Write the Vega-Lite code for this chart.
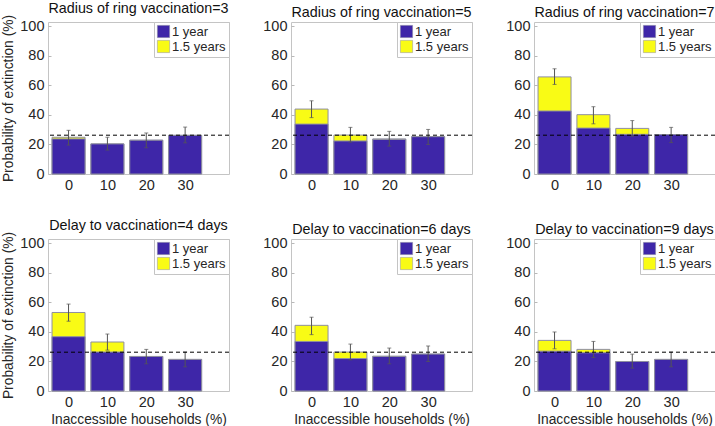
{
  "$schema": "https://vega.github.io/schema/vega-lite/v6.json",
  "padding": {"left": 1, "top": 1, "right": 0, "bottom": 0},
  "datasets": {
    "d": [
      {"p": "Radius of ring vaccination=3", "x": 0, "s": "1.5 years", "v": 24.9},
      {"p": "Radius of ring vaccination=3", "x": 10, "s": "1.5 years", "v": 20.4},
      {"p": "Radius of ring vaccination=3", "x": 20, "s": "1.5 years", "v": 22.9},
      {"p": "Radius of ring vaccination=3", "x": 30, "s": "1.5 years", "v": 26.2},
      {"p": "Radius of ring vaccination=3", "x": 0, "s": "1 year", "v": 23.8},
      {"p": "Radius of ring vaccination=3", "x": 10, "s": "1 year", "v": 20.4},
      {"p": "Radius of ring vaccination=3", "x": 20, "s": "1 year", "v": 22.9},
      {"p": "Radius of ring vaccination=3", "x": 30, "s": "1 year", "v": 26.2},
      {"p": "Radius of ring vaccination=3", "x": 0, "lo": 19.6, "hi": 29.6},
      {"p": "Radius of ring vaccination=3", "x": 10, "lo": 16.2, "hi": 24.9},
      {"p": "Radius of ring vaccination=3", "x": 20, "lo": 17.8, "hi": 27.8},
      {"p": "Radius of ring vaccination=3", "x": 30, "lo": 21.1, "hi": 31.8},

      {"p": "Radius of ring vaccination=5", "x": 0, "s": "1.5 years", "v": 44.0},
      {"p": "Radius of ring vaccination=5", "x": 10, "s": "1.5 years", "v": 26.4},
      {"p": "Radius of ring vaccination=5", "x": 20, "s": "1.5 years", "v": 23.8},
      {"p": "Radius of ring vaccination=5", "x": 30, "s": "1.5 years", "v": 25.3},
      {"p": "Radius of ring vaccination=5", "x": 0, "s": "1 year", "v": 33.8},
      {"p": "Radius of ring vaccination=5", "x": 10, "s": "1 year", "v": 22.4},
      {"p": "Radius of ring vaccination=5", "x": 20, "s": "1 year", "v": 23.4},
      {"p": "Radius of ring vaccination=5", "x": 30, "s": "1 year", "v": 25.3},
      {"p": "Radius of ring vaccination=5", "x": 0, "lo": 38.2, "hi": 49.6},
      {"p": "Radius of ring vaccination=5", "x": 10, "lo": 21.6, "hi": 31.6},
      {"p": "Radius of ring vaccination=5", "x": 20, "lo": 18.9, "hi": 28.9},
      {"p": "Radius of ring vaccination=5", "x": 30, "lo": 20.0, "hi": 30.2},

      {"p": "Radius of ring vaccination=7", "x": 0, "s": "1.5 years", "v": 65.8},
      {"p": "Radius of ring vaccination=7", "x": 10, "s": "1.5 years", "v": 40.2},
      {"p": "Radius of ring vaccination=7", "x": 20, "s": "1.5 years", "v": 30.9},
      {"p": "Radius of ring vaccination=7", "x": 30, "s": "1.5 years", "v": 26.7},
      {"p": "Radius of ring vaccination=7", "x": 0, "s": "1 year", "v": 42.7},
      {"p": "Radius of ring vaccination=7", "x": 10, "s": "1 year", "v": 31.1},
      {"p": "Radius of ring vaccination=7", "x": 20, "s": "1 year", "v": 26.9},
      {"p": "Radius of ring vaccination=7", "x": 30, "s": "1 year", "v": 26.7},
      {"p": "Radius of ring vaccination=7", "x": 0, "lo": 60.7, "hi": 71.3},
      {"p": "Radius of ring vaccination=7", "x": 10, "lo": 34.0, "hi": 45.6},
      {"p": "Radius of ring vaccination=7", "x": 20, "lo": 25.6, "hi": 36.2},
      {"p": "Radius of ring vaccination=7", "x": 30, "lo": 21.3, "hi": 31.6},

      {"p": "Delay to vaccination=4 days", "x": 0, "s": "1.5 years", "v": 53.2},
      {"p": "Delay to vaccination=4 days", "x": 10, "s": "1.5 years", "v": 33.2},
      {"p": "Delay to vaccination=4 days", "x": 20, "s": "1.5 years", "v": 23.4},
      {"p": "Delay to vaccination=4 days", "x": 30, "s": "1.5 years", "v": 21.4},
      {"p": "Delay to vaccination=4 days", "x": 0, "s": "1 year", "v": 36.8},
      {"p": "Delay to vaccination=4 days", "x": 10, "s": "1 year", "v": 26.4},
      {"p": "Delay to vaccination=4 days", "x": 20, "s": "1 year", "v": 23.4},
      {"p": "Delay to vaccination=4 days", "x": 30, "s": "1 year", "v": 21.4},
      {"p": "Delay to vaccination=4 days", "x": 0, "lo": 47.3, "hi": 58.9},
      {"p": "Delay to vaccination=4 days", "x": 10, "lo": 27.7, "hi": 38.6},
      {"p": "Delay to vaccination=4 days", "x": 20, "lo": 18.4, "hi": 28.2},
      {"p": "Delay to vaccination=4 days", "x": 30, "lo": 16.4, "hi": 26.4},

      {"p": "Delay to vaccination=6 days", "x": 0, "s": "1.5 years", "v": 44.5},
      {"p": "Delay to vaccination=6 days", "x": 10, "s": "1.5 years", "v": 26.4},
      {"p": "Delay to vaccination=6 days", "x": 20, "s": "1.5 years", "v": 23.6},
      {"p": "Delay to vaccination=6 days", "x": 30, "s": "1.5 years", "v": 25.0},
      {"p": "Delay to vaccination=6 days", "x": 0, "s": "1 year", "v": 33.6},
      {"p": "Delay to vaccination=6 days", "x": 10, "s": "1 year", "v": 22.0},
      {"p": "Delay to vaccination=6 days", "x": 20, "s": "1 year", "v": 23.4},
      {"p": "Delay to vaccination=6 days", "x": 30, "s": "1 year", "v": 25.0},
      {"p": "Delay to vaccination=6 days", "x": 0, "lo": 38.2, "hi": 50.0},
      {"p": "Delay to vaccination=6 days", "x": 10, "lo": 21.1, "hi": 31.8},
      {"p": "Delay to vaccination=6 days", "x": 20, "lo": 18.4, "hi": 29.1},
      {"p": "Delay to vaccination=6 days", "x": 30, "lo": 20.0, "hi": 30.5},

      {"p": "Delay to vaccination=9 days", "x": 0, "s": "1.5 years", "v": 34.3},
      {"p": "Delay to vaccination=9 days", "x": 10, "s": "1.5 years", "v": 28.2},
      {"p": "Delay to vaccination=9 days", "x": 20, "s": "1.5 years", "v": 20.0},
      {"p": "Delay to vaccination=9 days", "x": 30, "s": "1.5 years", "v": 21.4},
      {"p": "Delay to vaccination=9 days", "x": 0, "s": "1 year", "v": 27.0},
      {"p": "Delay to vaccination=9 days", "x": 10, "s": "1 year", "v": 25.9},
      {"p": "Delay to vaccination=9 days", "x": 20, "s": "1 year", "v": 20.0},
      {"p": "Delay to vaccination=9 days", "x": 30, "s": "1 year", "v": 21.4},
      {"p": "Delay to vaccination=9 days", "x": 0, "lo": 28.6, "hi": 40.0},
      {"p": "Delay to vaccination=9 days", "x": 10, "lo": 22.7, "hi": 33.6},
      {"p": "Delay to vaccination=9 days", "x": 20, "lo": 15.5, "hi": 25.0},
      {"p": "Delay to vaccination=9 days", "x": 30, "lo": 16.4, "hi": 26.4}
    ]
  },
  "columns": 3,
  "spacing": {"column": 62, "row": 65},
  "bounds": "flush",
  "resolve": {"scale": {"color": "independent"}, "legend": {"color": "independent"}},
  "concat": [
    {
      "width": 181, "height": 152,
      "title": "Radius of ring vaccination=3",
      "data": {"name": "d"},
      "transform": [{"filter": "datum.p == 'Radius of ring vaccination=3'"}],
      "layer": [
        {"mark": {"type": "bar", "size": 33, "stroke": "#8f8fa0", "strokeWidth": 1},
         "transform": [{"filter": "isValid(datum.s)"}],
         "encoding": {
           "x": {"field": "x", "type": "quantitative", "scale": {"domain": [-4, 40], "nice": false, "zero": false}, "axis": {"title": null, "values": [0, 10, 20, 30], "labelOverlap": false}},
           "y": {"field": "v", "type": "quantitative", "stack": null, "scale": {"domain": [0, 103], "nice": false}, "axis": {"title": "Probability of extinction (%)", "values": [0, 20, 40, 60, 80, 100], "labelOverlap": false}},
           "color": {"field": "s", "type": "nominal", "scale": {"domain": ["1 year", "1.5 years"], "range": ["#3E26A8", "#F9FB15"]}, "legend": {"title": null}}
         }},
        {"mark": {"type": "rule", "color": "#555555", "strokeWidth": 1},
         "transform": [{"filter": "isValid(datum.lo)"}],
         "encoding": {"x": {"field": "x", "type": "quantitative", "axis": {"title": null, "values": [0, 10, 20, 30], "labelOverlap": false}}, "y": {"field": "lo", "type": "quantitative", "axis": {"title": "Probability of extinction (%)", "values": [0, 20, 40, 60, 80, 100], "labelOverlap": false}}, "y2": {"field": "hi"}}},
        {"mark": {"type": "tick", "orient": "horizontal", "color": "#555555", "size": 4, "thickness": 1},
         "transform": [{"filter": "isValid(datum.lo)"}],
         "encoding": {"x": {"field": "x", "type": "quantitative", "axis": {"title": null, "values": [0, 10, 20, 30], "labelOverlap": false}}, "y": {"field": "lo", "type": "quantitative", "axis": {"title": "Probability of extinction (%)", "values": [0, 20, 40, 60, 80, 100], "labelOverlap": false}}}},
        {"mark": {"type": "tick", "orient": "horizontal", "color": "#555555", "size": 4, "thickness": 1},
         "transform": [{"filter": "isValid(datum.lo)"}],
         "encoding": {"x": {"field": "x", "type": "quantitative", "axis": {"title": null, "values": [0, 10, 20, 30], "labelOverlap": false}}, "y": {"field": "hi", "type": "quantitative", "axis": {"title": "Probability of extinction (%)", "values": [0, 20, 40, 60, 80, 100], "labelOverlap": false}}}},
        {"data": {"values": [{"ref": 26.3}]},
         "mark": {"type": "rule", "color": "black", "strokeWidth": 1, "strokeDash": [4, 3]},
         "encoding": {"y": {"field": "ref", "type": "quantitative", "axis": {"title": "Probability of extinction (%)", "values": [0, 20, 40, 60, 80, 100], "labelOverlap": false}}}}
      ]
    },
    {
      "width": 181, "height": 152,
      "title": "Radius of ring vaccination=5",
      "data": {"name": "d"},
      "transform": [{"filter": "datum.p == 'Radius of ring vaccination=5'"}],
      "layer": [
        {"mark": {"type": "bar", "size": 33, "stroke": "#8f8fa0", "strokeWidth": 1},
         "transform": [{"filter": "isValid(datum.s)"}],
         "encoding": {
           "x": {"field": "x", "type": "quantitative", "scale": {"domain": [-4, 40], "nice": false, "zero": false}, "axis": {"title": null, "values": [0, 10, 20, 30], "labelOverlap": false}},
           "y": {"field": "v", "type": "quantitative", "stack": null, "scale": {"domain": [0, 103], "nice": false}, "axis": {"title": null, "values": [0, 20, 40, 60, 80, 100], "labelOverlap": false}},
           "color": {"field": "s", "type": "nominal", "scale": {"domain": ["1 year", "1.5 years"], "range": ["#3E26A8", "#F9FB15"]}, "legend": {"title": null}}
         }},
        {"mark": {"type": "rule", "color": "#555555", "strokeWidth": 1},
         "transform": [{"filter": "isValid(datum.lo)"}],
         "encoding": {"x": {"field": "x", "type": "quantitative", "axis": {"title": null, "values": [0, 10, 20, 30], "labelOverlap": false}}, "y": {"field": "lo", "type": "quantitative", "axis": {"title": null, "values": [0, 20, 40, 60, 80, 100], "labelOverlap": false}}, "y2": {"field": "hi"}}},
        {"mark": {"type": "tick", "orient": "horizontal", "color": "#555555", "size": 4, "thickness": 1},
         "transform": [{"filter": "isValid(datum.lo)"}],
         "encoding": {"x": {"field": "x", "type": "quantitative", "axis": {"title": null, "values": [0, 10, 20, 30], "labelOverlap": false}}, "y": {"field": "lo", "type": "quantitative", "axis": {"title": null, "values": [0, 20, 40, 60, 80, 100], "labelOverlap": false}}}},
        {"mark": {"type": "tick", "orient": "horizontal", "color": "#555555", "size": 4, "thickness": 1},
         "transform": [{"filter": "isValid(datum.lo)"}],
         "encoding": {"x": {"field": "x", "type": "quantitative", "axis": {"title": null, "values": [0, 10, 20, 30], "labelOverlap": false}}, "y": {"field": "hi", "type": "quantitative", "axis": {"title": null, "values": [0, 20, 40, 60, 80, 100], "labelOverlap": false}}}},
        {"data": {"values": [{"ref": 26.3}]},
         "mark": {"type": "rule", "color": "black", "strokeWidth": 1, "strokeDash": [4, 3]},
         "encoding": {"y": {"field": "ref", "type": "quantitative", "axis": {"title": null, "values": [0, 20, 40, 60, 80, 100], "labelOverlap": false}}}}
      ]
    },
    {
      "width": 181, "height": 152,
      "title": "Radius of ring vaccination=7",
      "data": {"name": "d"},
      "transform": [{"filter": "datum.p == 'Radius of ring vaccination=7'"}],
      "layer": [
        {"mark": {"type": "bar", "size": 33, "stroke": "#8f8fa0", "strokeWidth": 1},
         "transform": [{"filter": "isValid(datum.s)"}],
         "encoding": {
           "x": {"field": "x", "type": "quantitative", "scale": {"domain": [-4, 40], "nice": false, "zero": false}, "axis": {"title": null, "values": [0, 10, 20, 30], "labelOverlap": false}},
           "y": {"field": "v", "type": "quantitative", "stack": null, "scale": {"domain": [0, 103], "nice": false}, "axis": {"title": null, "values": [0, 20, 40, 60, 80, 100], "labelOverlap": false}},
           "color": {"field": "s", "type": "nominal", "scale": {"domain": ["1 year", "1.5 years"], "range": ["#3E26A8", "#F9FB15"]}, "legend": {"title": null}}
         }},
        {"mark": {"type": "rule", "color": "#555555", "strokeWidth": 1},
         "transform": [{"filter": "isValid(datum.lo)"}],
         "encoding": {"x": {"field": "x", "type": "quantitative", "axis": {"title": null, "values": [0, 10, 20, 30], "labelOverlap": false}}, "y": {"field": "lo", "type": "quantitative", "axis": {"title": null, "values": [0, 20, 40, 60, 80, 100], "labelOverlap": false}}, "y2": {"field": "hi"}}},
        {"mark": {"type": "tick", "orient": "horizontal", "color": "#555555", "size": 4, "thickness": 1},
         "transform": [{"filter": "isValid(datum.lo)"}],
         "encoding": {"x": {"field": "x", "type": "quantitative", "axis": {"title": null, "values": [0, 10, 20, 30], "labelOverlap": false}}, "y": {"field": "lo", "type": "quantitative", "axis": {"title": null, "values": [0, 20, 40, 60, 80, 100], "labelOverlap": false}}}},
        {"mark": {"type": "tick", "orient": "horizontal", "color": "#555555", "size": 4, "thickness": 1},
         "transform": [{"filter": "isValid(datum.lo)"}],
         "encoding": {"x": {"field": "x", "type": "quantitative", "axis": {"title": null, "values": [0, 10, 20, 30], "labelOverlap": false}}, "y": {"field": "hi", "type": "quantitative", "axis": {"title": null, "values": [0, 20, 40, 60, 80, 100], "labelOverlap": false}}}},
        {"data": {"values": [{"ref": 26.3}]},
         "mark": {"type": "rule", "color": "black", "strokeWidth": 1, "strokeDash": [4, 3]},
         "encoding": {"y": {"field": "ref", "type": "quantitative", "axis": {"title": null, "values": [0, 20, 40, 60, 80, 100], "labelOverlap": false}}}}
      ]
    },
    {
      "width": 181, "height": 152,
      "title": "Delay to vaccination=4 days",
      "data": {"name": "d"},
      "transform": [{"filter": "datum.p == 'Delay to vaccination=4 days'"}],
      "layer": [
        {"mark": {"type": "bar", "size": 33, "stroke": "#8f8fa0", "strokeWidth": 1},
         "transform": [{"filter": "isValid(datum.s)"}],
         "encoding": {
           "x": {"field": "x", "type": "quantitative", "scale": {"domain": [-4, 40], "nice": false, "zero": false}, "axis": {"title": "Inaccessible households (%)", "values": [0, 10, 20, 30], "labelOverlap": false}},
           "y": {"field": "v", "type": "quantitative", "stack": null, "scale": {"domain": [0, 103], "nice": false}, "axis": {"title": "Probability of extinction (%)", "values": [0, 20, 40, 60, 80, 100], "labelOverlap": false}},
           "color": {"field": "s", "type": "nominal", "scale": {"domain": ["1 year", "1.5 years"], "range": ["#3E26A8", "#F9FB15"]}, "legend": {"title": null}}
         }},
        {"mark": {"type": "rule", "color": "#555555", "strokeWidth": 1},
         "transform": [{"filter": "isValid(datum.lo)"}],
         "encoding": {"x": {"field": "x", "type": "quantitative", "axis": {"title": "Inaccessible households (%)", "values": [0, 10, 20, 30], "labelOverlap": false}}, "y": {"field": "lo", "type": "quantitative", "axis": {"title": "Probability of extinction (%)", "values": [0, 20, 40, 60, 80, 100], "labelOverlap": false}}, "y2": {"field": "hi"}}},
        {"mark": {"type": "tick", "orient": "horizontal", "color": "#555555", "size": 4, "thickness": 1},
         "transform": [{"filter": "isValid(datum.lo)"}],
         "encoding": {"x": {"field": "x", "type": "quantitative", "axis": {"title": "Inaccessible households (%)", "values": [0, 10, 20, 30], "labelOverlap": false}}, "y": {"field": "lo", "type": "quantitative", "axis": {"title": "Probability of extinction (%)", "values": [0, 20, 40, 60, 80, 100], "labelOverlap": false}}}},
        {"mark": {"type": "tick", "orient": "horizontal", "color": "#555555", "size": 4, "thickness": 1},
         "transform": [{"filter": "isValid(datum.lo)"}],
         "encoding": {"x": {"field": "x", "type": "quantitative", "axis": {"title": "Inaccessible households (%)", "values": [0, 10, 20, 30], "labelOverlap": false}}, "y": {"field": "hi", "type": "quantitative", "axis": {"title": "Probability of extinction (%)", "values": [0, 20, 40, 60, 80, 100], "labelOverlap": false}}}},
        {"data": {"values": [{"ref": 26.3}]},
         "mark": {"type": "rule", "color": "black", "strokeWidth": 1, "strokeDash": [4, 3]},
         "encoding": {"y": {"field": "ref", "type": "quantitative", "axis": {"title": "Probability of extinction (%)", "values": [0, 20, 40, 60, 80, 100], "labelOverlap": false}}}}
      ]
    },
    {
      "width": 181, "height": 152,
      "title": "Delay to vaccination=6 days",
      "data": {"name": "d"},
      "transform": [{"filter": "datum.p == 'Delay to vaccination=6 days'"}],
      "layer": [
        {"mark": {"type": "bar", "size": 33, "stroke": "#8f8fa0", "strokeWidth": 1},
         "transform": [{"filter": "isValid(datum.s)"}],
         "encoding": {
           "x": {"field": "x", "type": "quantitative", "scale": {"domain": [-4, 40], "nice": false, "zero": false}, "axis": {"title": "Inaccessible households (%)", "values": [0, 10, 20, 30], "labelOverlap": false}},
           "y": {"field": "v", "type": "quantitative", "stack": null, "scale": {"domain": [0, 103], "nice": false}, "axis": {"title": null, "values": [0, 20, 40, 60, 80, 100], "labelOverlap": false}},
           "color": {"field": "s", "type": "nominal", "scale": {"domain": ["1 year", "1.5 years"], "range": ["#3E26A8", "#F9FB15"]}, "legend": {"title": null}}
         }},
        {"mark": {"type": "rule", "color": "#555555", "strokeWidth": 1},
         "transform": [{"filter": "isValid(datum.lo)"}],
         "encoding": {"x": {"field": "x", "type": "quantitative", "axis": {"title": "Inaccessible households (%)", "values": [0, 10, 20, 30], "labelOverlap": false}}, "y": {"field": "lo", "type": "quantitative", "axis": {"title": null, "values": [0, 20, 40, 60, 80, 100], "labelOverlap": false}}, "y2": {"field": "hi"}}},
        {"mark": {"type": "tick", "orient": "horizontal", "color": "#555555", "size": 4, "thickness": 1},
         "transform": [{"filter": "isValid(datum.lo)"}],
         "encoding": {"x": {"field": "x", "type": "quantitative", "axis": {"title": "Inaccessible households (%)", "values": [0, 10, 20, 30], "labelOverlap": false}}, "y": {"field": "lo", "type": "quantitative", "axis": {"title": null, "values": [0, 20, 40, 60, 80, 100], "labelOverlap": false}}}},
        {"mark": {"type": "tick", "orient": "horizontal", "color": "#555555", "size": 4, "thickness": 1},
         "transform": [{"filter": "isValid(datum.lo)"}],
         "encoding": {"x": {"field": "x", "type": "quantitative", "axis": {"title": "Inaccessible households (%)", "values": [0, 10, 20, 30], "labelOverlap": false}}, "y": {"field": "hi", "type": "quantitative", "axis": {"title": null, "values": [0, 20, 40, 60, 80, 100], "labelOverlap": false}}}},
        {"data": {"values": [{"ref": 26.3}]},
         "mark": {"type": "rule", "color": "black", "strokeWidth": 1, "strokeDash": [4, 3]},
         "encoding": {"y": {"field": "ref", "type": "quantitative", "axis": {"title": null, "values": [0, 20, 40, 60, 80, 100], "labelOverlap": false}}}}
      ]
    },
    {
      "width": 181, "height": 152,
      "title": "Delay to vaccination=9 days",
      "data": {"name": "d"},
      "transform": [{"filter": "datum.p == 'Delay to vaccination=9 days'"}],
      "layer": [
        {"mark": {"type": "bar", "size": 33, "stroke": "#8f8fa0", "strokeWidth": 1},
         "transform": [{"filter": "isValid(datum.s)"}],
         "encoding": {
           "x": {"field": "x", "type": "quantitative", "scale": {"domain": [-4, 40], "nice": false, "zero": false}, "axis": {"title": "Inaccessible households (%)", "values": [0, 10, 20, 30], "labelOverlap": false}},
           "y": {"field": "v", "type": "quantitative", "stack": null, "scale": {"domain": [0, 103], "nice": false}, "axis": {"title": null, "values": [0, 20, 40, 60, 80, 100], "labelOverlap": false}},
           "color": {"field": "s", "type": "nominal", "scale": {"domain": ["1 year", "1.5 years"], "range": ["#3E26A8", "#F9FB15"]}, "legend": {"title": null}}
         }},
        {"mark": {"type": "rule", "color": "#555555", "strokeWidth": 1},
         "transform": [{"filter": "isValid(datum.lo)"}],
         "encoding": {"x": {"field": "x", "type": "quantitative", "axis": {"title": "Inaccessible households (%)", "values": [0, 10, 20, 30], "labelOverlap": false}}, "y": {"field": "lo", "type": "quantitative", "axis": {"title": null, "values": [0, 20, 40, 60, 80, 100], "labelOverlap": false}}, "y2": {"field": "hi"}}},
        {"mark": {"type": "tick", "orient": "horizontal", "color": "#555555", "size": 4, "thickness": 1},
         "transform": [{"filter": "isValid(datum.lo)"}],
         "encoding": {"x": {"field": "x", "type": "quantitative", "axis": {"title": "Inaccessible households (%)", "values": [0, 10, 20, 30], "labelOverlap": false}}, "y": {"field": "lo", "type": "quantitative", "axis": {"title": null, "values": [0, 20, 40, 60, 80, 100], "labelOverlap": false}}}},
        {"mark": {"type": "tick", "orient": "horizontal", "color": "#555555", "size": 4, "thickness": 1},
         "transform": [{"filter": "isValid(datum.lo)"}],
         "encoding": {"x": {"field": "x", "type": "quantitative", "axis": {"title": "Inaccessible households (%)", "values": [0, 10, 20, 30], "labelOverlap": false}}, "y": {"field": "hi", "type": "quantitative", "axis": {"title": null, "values": [0, 20, 40, 60, 80, 100], "labelOverlap": false}}}},
        {"data": {"values": [{"ref": 26.3}]},
         "mark": {"type": "rule", "color": "black", "strokeWidth": 1, "strokeDash": [4, 3]},
         "encoding": {"y": {"field": "ref", "type": "quantitative", "axis": {"title": null, "values": [0, 20, 40, 60, 80, 100], "labelOverlap": false}}}}
      ]
    }
  ],
  "config": {
    "font": "Liberation Sans",
    "background": "white",
    "view": {"stroke": "#c4c4c4", "strokeWidth": 1},
    "axis": {"domain": false, "grid": false, "ticks": true, "tickSize": -3, "tickColor": "#b8b8b8", "tickWidth": 1, "labelFontSize": 14.5, "labelColor": "#262626", "labelPadding": 7, "labelOverlap": false, "labelFlush": false, "titleFontSize": 13.8, "titleFontWeight": "normal", "titleColor": "#262626", "titlePadding": 4},
    "title": {"fontSize": 14.3, "fontWeight": "normal", "color": "#111111", "offset": -2, "frame": "group"},
    "legend": {"orient": "top-right", "offset": 0, "padding": 3, "strokeColor": "#c4c4c4", "fillColor": "white", "symbolType": "square", "symbolSize": 150, "symbolStrokeColor": "#8f8fa0", "symbolStrokeWidth": 0.5, "labelFontSize": 13, "labelColor": "#262626", "labelOffset": 2, "rowPadding": 0}
  }
}
